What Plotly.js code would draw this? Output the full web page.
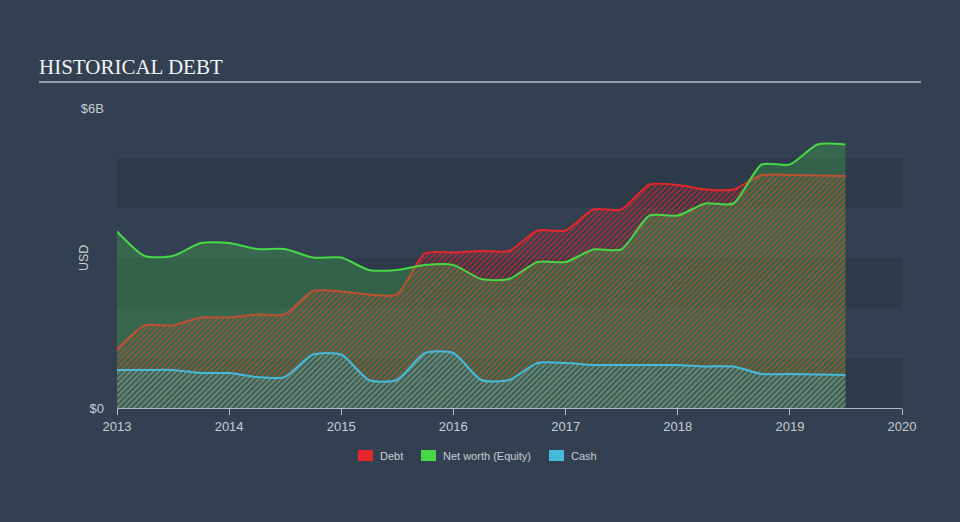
<!DOCTYPE html>
<html>
<head>
<meta charset="utf-8">
<script src="https://cdn.plot.ly/plotly-3.0.1.min.js"></script>
<style>
html,body{margin:0;padding:0;background:#334051;}
#chart{width:960px;height:522px;}
</style>
</head>
<body>
<div id="chart"></div>
<script>
// ---- data (USD billions, quarterly) ----
var dates = ['2013-01-01','2013-04-01','2013-07-01','2013-10-01',
             '2014-01-01','2014-04-01','2014-07-01','2014-10-01',
             '2015-01-01','2015-04-01','2015-07-01','2015-10-01',
             '2016-01-01','2016-04-01','2016-07-01','2016-10-01',
             '2017-01-01','2017-04-01','2017-07-01','2017-10-01',
             '2018-01-01','2018-04-01','2018-07-01','2018-10-01',
             '2019-01-01','2019-04-01','2019-07-01'];
var debt   = [1.17,1.65,1.65,1.81,1.81,1.87,1.87,2.34,2.33,2.27,2.27,3.09,3.11,3.14,3.14,3.55,3.55,3.97,3.97,4.47,4.46,4.37,4.37,4.66,4.66,4.65,4.64];
var equity = [3.53,3.04,3.04,3.30,3.30,3.18,3.18,3.01,3.01,2.76,2.76,2.86,2.86,2.58,2.58,2.92,2.92,3.17,3.17,3.85,3.85,4.09,4.09,4.87,4.87,5.27,5.27];
var cash   = [0.76,0.76,0.76,0.70,0.70,0.62,0.62,1.07,1.07,0.56,0.56,1.10,1.10,0.56,0.56,0.90,0.90,0.86,0.86,0.86,0.86,0.83,0.83,0.68,0.68,0.67,0.66];
var seriesNames = ['Debt','Net worth (Equity)','Cash'];
var yTickVals = [0, 6];
var yTickText = ['$0', '$6B'];
var xTickVals = ['2013-01-01','2014-01-01','2015-01-01','2016-01-01','2017-01-01','2018-01-01','2019-01-01','2020-01-01'];
var xTickText = ['2013','2014','2015','2016','2017','2018','2019','2020'];
var yTitle = 'USD';
var chartTitle = 'HISTORICAL DEBT';

// ---- styles ----
var RED = '#e5262a', GREEN = '#47d747', BLUE = '#47b9db';
var BG = '#334051', BAND = '#2e3a4a';
var TXT = '#c8cdd3';
var FONT = 'Liberation Sans, Arial, sans-serif';
var SM = 0.65;

var traces = [
  {x: dates, y: debt, name: seriesNames[0], type: 'scatter', mode: 'lines',
   line: {color: RED, width: 2, shape: 'spline', smoothing: SM},
   fill: 'tozeroy', fillcolor: 'rgba(0,0,0,0)',
   fillpattern: {shape: '/', fgcolor: 'rgba(229,38,42,0.65)', bgcolor: 'rgba(0,0,0,0)', size: 4, solidity: 0.45},
   hoverinfo: 'skip'},
  {x: dates, y: equity, name: seriesNames[1], type: 'scatter', mode: 'lines',
   line: {color: GREEN, width: 2, shape: 'spline', smoothing: SM},
   fill: 'tozeroy', fillcolor: 'rgba(71,215,71,0.25)', hoverinfo: 'skip'},
  {x: dates, y: cash, name: seriesNames[2], type: 'scatter', mode: 'lines',
   line: {color: BLUE, width: 2, shape: 'spline', smoothing: SM},
   fill: 'tozeroy', fillcolor: 'rgba(0,0,0,0)',
   fillpattern: {shape: '/', fgcolor: 'rgba(71,185,219,0.5)', bgcolor: 'rgba(0,0,0,0)', size: 4, solidity: 0.45},
   hoverinfo: 'skip'}
];

var W = 960, H = 522, L = 117, R = 58, T = 108, B = 114;
var pw = W - L - R, ph = H - T - B;
function px(x) { return (x - L) / pw; }
function py(y) { return (H - B - y) / ph; }

var shapes = [];
[[0,1],[2,3],[4,5]].forEach(function (b) {
  shapes.push({type: 'rect', xref: 'paper', yref: 'y', x0: 0, x1: 1, y0: b[0], y1: b[1],
               fillcolor: BAND, line: {width: 0}, layer: 'below'});
});
// title underline
shapes.push({type: 'line', xref: 'paper', yref: 'paper', x0: px(39), x1: px(921), y0: py(82), y1: py(82),
             line: {color: '#b4bac2', width: 1.5}});

// custom legend
var legColors = [RED, GREEN, BLUE];
var legSq = [[358,373],[421,436],[549,564]];
var legTxt = [378, 441, 569];
var annotations = [];
for (var i = 0; i < 3; i++) {
  shapes.push({type: 'rect', xref: 'paper', yref: 'paper', x0: px(legSq[i][0]), x1: px(legSq[i][1]),
               y0: py(461), y1: py(450), fillcolor: legColors[i], line: {width: 0}});
  annotations.push({xref: 'paper', yref: 'paper', x: px(legTxt[i]), y: py(456), xanchor: 'left', yanchor: 'middle',
                    text: seriesNames[i], showarrow: false, font: {family: FONT, size: 11, color: TXT}});
}
annotations.push({xref: 'paper', yref: 'paper', x: px(84), y: py(258), xanchor: 'center', yanchor: 'middle',
                  text: yTitle, textangle: -90, showarrow: false, font: {family: FONT, size: 12.5, color: TXT}});

var layout = {
  width: W, height: H,
  margin: {l: L, r: R, t: T, b: B},
  paper_bgcolor: BG, plot_bgcolor: BG,
  font: {family: FONT, color: TXT, size: 13},
  showlegend: false,
  title: {text: chartTitle, x: 39 / W, xanchor: 'left', xref: 'container', yref: 'container',
          y: 1 - 67 / H, yanchor: 'middle',
          font: {family: 'Liberation Serif, Times New Roman, serif', size: 21, color: '#f2f4f6'}},
  xaxis: {type: 'date', range: ['2013-01-01', '2020-01-01'], tickvals: xTickVals, ticktext: xTickText,
          showgrid: false, zeroline: false, showline: true, linecolor: '#b4bac2', linewidth: 1,
          ticks: 'outside', ticklen: 6, tickcolor: '#b4bac2', tickfont: {size: 13, color: TXT}, fixedrange: true},
  yaxis: {range: [0, 6], tickvals: yTickVals, ticktext: yTickText, showgrid: false, zeroline: false,
          showline: false, ticks: '', ticklabelstandoff: 12, tickfont: {size: 13, color: TXT}, fixedrange: true},
  shapes: shapes,
  annotations: annotations
};

Plotly.newPlot('chart', traces, layout, {displayModeBar: false, staticPlot: true});
</script>
</body>
</html>
